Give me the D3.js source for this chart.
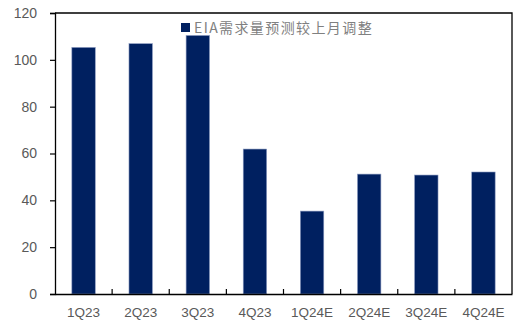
<!DOCTYPE html>
<html>
<head>
<meta charset="utf-8">
<script src="https://cdn.jsdelivr.net/npm/d3@7"></script>
<style>
  html, body { margin: 0; padding: 0; background: #fff; }
  svg { display: block; }
</style>
</head>
<body>
<svg id="chart" width="525" height="322"></svg>
<script>
// Quarterly EIA demand forecast revisions versus the prior month
const categories = ["1Q23", "2Q23", "3Q23", "4Q23", "1Q24E", "2Q24E", "3Q24E", "4Q24E"];
const values = [105.3, 106.9, 110.4, 61.9, 35.4, 51.2, 50.8, 52.1];
const yTicks = [0, 20, 40, 60, 80, 100, 120];
const seriesName = "EIA需求量预测较上月调整";

const W = 525, H = 322;
const margin = { top: 13, right: 13, bottom: 28, left: 55 };
const iw = W - margin.left - margin.right;
const ih = H - margin.top - margin.bottom;

const svg = d3.select("#chart");
const g = svg.append("g").attr("transform", `translate(${margin.left},${margin.top})`);

const x = d3.scaleBand().domain(categories).range([0, iw]).paddingInner(0.59).paddingOuter(0.295);
const y = d3.scaleLinear().domain([0, 120]).range([ih, 0]);

const font = "'Liberation Sans', Calibri, Arial, sans-serif";

// Bars
g.selectAll("rect.bar").data(values).join("rect")
  .attr("class", "bar")
  .attr("x", (d, i) => x(categories[i]))
  .attr("y", d => y(d))
  .attr("width", x.bandwidth())
  .attr("height", d => ih - y(d))
  .attr("fill", "#002060")
  .attr("stroke", "#8a9ac0")
  .attr("stroke-width", 0.6);

// Frame: top and right edges
g.append("path")
  .attr("d", `M0,0H${iw}V${ih}`)
  .attr("fill", "none").attr("stroke", "#000").attr("stroke-width", 1.3);

// Y axis with outward ticks
const yAxis = g.append("g").call(d3.axisLeft(y).tickValues(yTicks).tickSize(5).tickPadding(13));
yAxis.select(".domain").attr("stroke", "#000").attr("stroke-width", 1.3);
yAxis.selectAll(".tick line").attr("stroke", "#000").attr("stroke-width", 1.2);
yAxis.selectAll(".tick text")
  .attr("fill", "#595959").style("font-family", font).style("font-size", "14px");

// X axis: baseline with inward ticks at category boundaries
const xAxis = g.append("g").attr("transform", `translate(0,${ih})`)
  .call(d3.axisBottom(x).tickSize(0).tickPadding(13));
xAxis.select(".domain").attr("stroke", "#000").attr("stroke-width", 1.3);
xAxis.selectAll(".tick text")
  .attr("fill", "#595959").style("font-family", font).style("font-size", "13.5px");
const step = x.step();
g.append("g").selectAll("line").data(d3.range(1, categories.length)).join("line")
  .attr("x1", i => i * step).attr("x2", i => i * step)
  .attr("y1", ih).attr("y2", ih - 5)
  .attr("stroke", "#000").attr("stroke-width", 1.2);

// Legend
const lg = svg.append("g").attr("transform", "translate(181,23)");
lg.append("rect").attr("width", 9).attr("height", 9).attr("fill", "#002060");
lg.append("text").attr("x", 13).attr("y", 10)
  .attr("fill", "#808080")
  .style("font-family", "'Noto Sans CJK SC', 'Liberation Sans', sans-serif")
  .style("font-size", "14px")
  .style("letter-spacing", "1.4px")
  .text(seriesName);
</script>
</body>
</html>
